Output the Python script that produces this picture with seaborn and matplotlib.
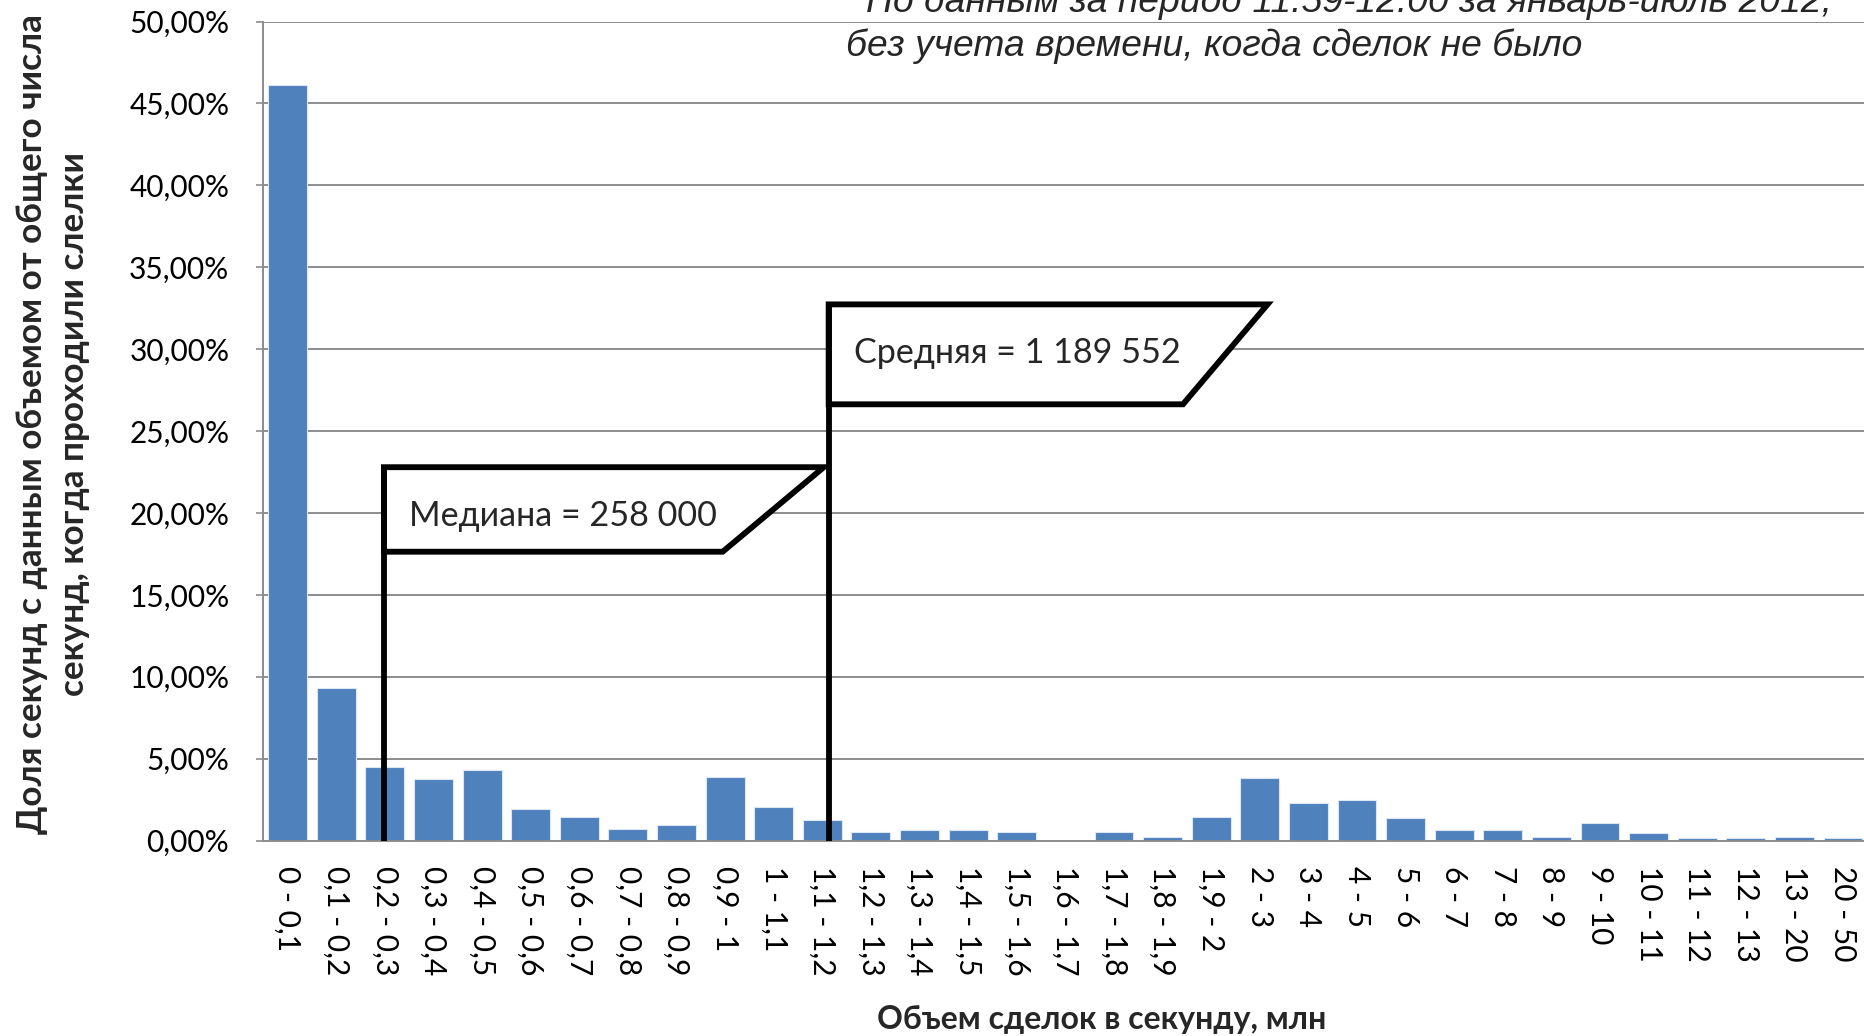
import matplotlib
matplotlib.use("Agg")
import matplotlib.pyplot as plt
import seaborn as sns
import pandas as pd
from matplotlib.patches import Polygon
from matplotlib.ticker import FuncFormatter, MultipleLocator

categories = ["0 - 0,1", "0,1 - 0,2", "0,2 - 0,3", "0,3 - 0,4", "0,4 - 0,5", "0,5 - 0,6",
              "0,6 - 0,7", "0,7 - 0,8", "0,8 - 0,9", "0,9 - 1", "1 - 1,1", "1,1 - 1,2",
              "1,2 - 1,3", "1,3 - 1,4", "1,4 - 1,5", "1,5 - 1,6", "1,6 - 1,7", "1,7 - 1,8",
              "1,8 - 1,9", "1,9 - 2", "2 - 3", "3 - 4", "4 - 5", "5 - 6", "6 - 7", "7 - 8",
              "8 - 9", "9 - 10", "10 - 11", "11 - 12", "12 - 13", "13 - 20", "20 - 50"]
shares = [46.15, 9.33, 4.49, 3.78, 4.29, 1.94, 1.45, 0.73, 0.96, 3.88, 2.06, 1.24,
          0.53, 0.63, 0.63, 0.53, 0.0, 0.52, 0.23, 1.45, 3.80, 2.27, 2.50, 1.36,
          0.64, 0.64, 0.23, 1.05, 0.43, 0.14, 0.14, 0.23, 0.14]

median_label = "Медиана = 258 000"
mean_label = "Средняя = 1 189 552"
subtitle_1 = "По данным за период 11:59-12:00 за январь-июль 2012,"
subtitle_2 = "без учета времени, когда сделок не было"
ylabel_1 = "Доля секунд с данным объемом от общего числа"
ylabel_2 = "секунд, когда проходили слелки"
xlabel = "Объем сделок в секунду, млн"

sns.set_theme(style="white")
plt.rcParams['font.family'] = ['Lato', 'DejaVu Sans']

W, H = 1864, 1036
fig = plt.figure(figsize=(W / 100, H / 100), dpi=100)
ax = fig.add_axes([263.4 / W, 1 - 840.5 / H, (1867.3 - 263.4) / W, (840.5 - 21.5) / H])

df = pd.DataFrame({"cat": categories, "val": shares})
sns.barplot(data=df, x="cat", y="val", color="#4F81BD", saturation=1, width=0.8,
            ax=ax, edgecolor="#DCE6F2", linewidth=0.8, zorder=2)

ax.set_xlim(-0.5, 32.5)
ax.set_ylim(0, 50)
ax.yaxis.set_major_locator(MultipleLocator(5))
ax.yaxis.set_major_formatter(FuncFormatter(lambda v, p: f"{v:.2f}%".replace(".", ",")))
ax.grid(axis="y", color="#8C8C8C", linewidth=1.4, zorder=0)
ax.set_axisbelow(True)
for s in ["top", "right"]:
    ax.spines[s].set_visible(False)
for s in ["left", "bottom"]:
    ax.spines[s].set_color("#8C8C8C")
    ax.spines[s].set_linewidth(1.4)
ax.tick_params(axis="y", labelsize=21.5, colors="#8C8C8C", labelcolor="black",
               length=5, width=1.2, pad=19.5, direction="out", left=True)
ax.tick_params(axis="x", labelsize=21.5, length=0, pad=18.5, labelcolor="black")
plt.setp(ax.get_xticklabels(), rotation=-90, ha="center", va="top")
ax.set_xlabel("")
ax.set_ylabel("")

# flags (data coordinates: category index, percent)
def flag(x0, y_top, y_bot, x_tr, x_br, text, tx, ty):
    ax.plot([x0, x0], [0, y_top], color="black", lw=4.2, zorder=5, solid_capstyle="butt")
    poly = Polygon([(x0, y_top), (x_tr, y_top), (x_br, y_bot), (x0, y_bot)], closed=True,
                   facecolor="white", edgecolor="black", lw=4.2, zorder=4, joinstyle="miter")
    ax.add_patch(poly)
    ax.text(tx, ty, text, fontsize=24.6, va="center", ha="left", zorder=6)

flag(1.98, 22.79, 17.63, 11.03, 8.95, median_label, 2.5, 19.8)
flag(11.13, 32.73, 26.63, 20.16, 18.42, mean_label, 11.65, 29.75)

# subtitle
fig.text(866 / W, 1 - 12 / H, subtitle_1, fontsize=26.8, style="italic",
         family=["Liberation Sans", "DejaVu Sans"], ha="left", va="baseline")
fig.text(846 / W, 1 - 56 / H, subtitle_2, fontsize=26.8, style="italic",
         family=["Liberation Sans", "DejaVu Sans"], ha="left", va="baseline")

# axis titles
fig.text(32 / W, 1 - 424 / H, ylabel_1, rotation=90, fontsize=25.3, fontweight="bold",
         ha="center", va="center")
fig.text(74 / W, 1 - 424 / H, ylabel_2, rotation=90, fontsize=25.3, fontweight="bold",
         ha="center", va="center")
fig.text(1102 / W, 1 - 1019 / H, xlabel, fontsize=23, fontweight="bold",
         ha="center", va="center")

fig.savefig("out.png", dpi=100, facecolor="white")
